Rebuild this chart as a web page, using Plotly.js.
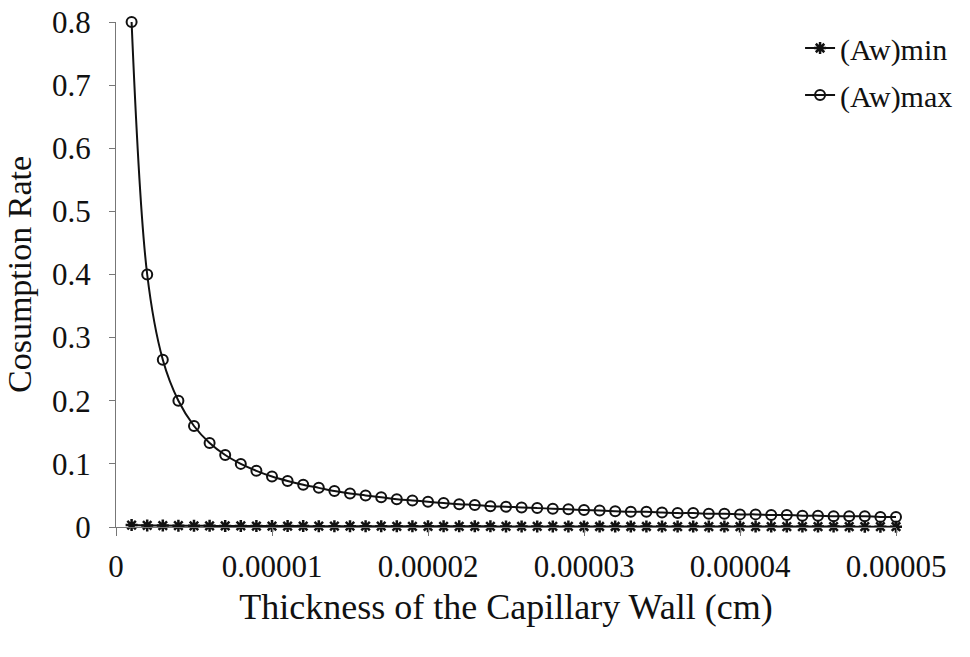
<!DOCTYPE html>
<html>
<head>
<meta charset="utf-8">
<script src="https://cdn.plot.ly/plotly-3.0.1.min.js"></script>
<style>
html,body{margin:0;padding:0;background:#fff;}
#chart{width:970px;height:657px;}
</style>
</head>
<body>
<div id="chart"></div>
<script>
// Thickness of the capillary wall (cm)
const thickness = [
  0.000001, 0.000002, 0.000003, 0.000004, 0.000005, 0.000006, 0.000007, 0.000008, 0.000009, 0.000010,
  0.000011, 0.000012, 0.000013, 0.000014, 0.000015, 0.000016, 0.000017, 0.000018, 0.000019, 0.000020,
  0.000021, 0.000022, 0.000023, 0.000024, 0.000025, 0.000026, 0.000027, 0.000028, 0.000029, 0.000030,
  0.000031, 0.000032, 0.000033, 0.000034, 0.000035, 0.000036, 0.000037, 0.000038, 0.000039, 0.000040,
  0.000041, 0.000042, 0.000043, 0.000044, 0.000045, 0.000046, 0.000047, 0.000048, 0.000049, 0.000050
];
// (Aw)min consumption rate
const awMin = [
  0.003, 0.0025, 0.0022, 0.002, 0.0019, 0.0018, 0.0017, 0.0016, 0.0015, 0.0015,
  0.0014, 0.0014, 0.0013, 0.0013, 0.0012, 0.0012, 0.0012, 0.0011, 0.0011, 0.0011,
  0.001, 0.001, 0.001, 0.001, 0.0009, 0.0009, 0.0009, 0.0009, 0.0009, 0.0008,
  0.0008, 0.0008, 0.0008, 0.0008, 0.0007, 0.0007, 0.0007, 0.0007, 0.0007, 0.0007,
  0.0006, 0.0006, 0.0006, 0.0006, 0.0006, 0.0006, 0.0006, 0.0005, 0.0005, 0.0005
];
// (Aw)max consumption rate
const awMax = [
  0.8, 0.4, 0.265, 0.2, 0.16, 0.133, 0.114, 0.1, 0.089, 0.08,
  0.073, 0.067, 0.062, 0.057, 0.053, 0.05, 0.047, 0.044, 0.042, 0.04,
  0.038, 0.036, 0.035, 0.033, 0.032, 0.031, 0.03, 0.029, 0.028, 0.027,
  0.026, 0.025, 0.024, 0.024, 0.023, 0.022, 0.022, 0.021, 0.021, 0.02,
  0.02, 0.019, 0.019, 0.018, 0.018, 0.017, 0.017, 0.017, 0.016, 0.016
];
const seriesNames = ["(Aw)min", "(Aw)max"];
const xTickVals = [0, 0.00001, 0.00002, 0.00003, 0.00004, 0.00005];
const xTickText = ["0", "0.00001", "0.00002", "0.00003", "0.00004", "0.00005"];
const yTickVals = [0, 0.1, 0.2, 0.3, 0.4, 0.5, 0.6, 0.7, 0.8];
const yTickText = ["0", "0.1", "0.2", "0.3", "0.4", "0.5", "0.6", "0.7", "0.8"];

const serif = "'Liberation Serif', 'Times New Roman', 'DejaVu Serif', serif";

const traces = [
  {
    x: thickness, y: awMin, name: seriesNames[0], type: "scatter", mode: "lines+markers",
    legendgroup: "a", cliponaxis: false,
    line: {color: "#111", width: 2, shape: "spline"},
    marker: {symbol: "asterisk-open", size: 10, color: "#111", line: {color: "#111", width: 2.5}}
  },
  {
    x: thickness, y: awMax, name: seriesNames[1], type: "scatter", mode: "lines+markers",
    legendgroup: "b", cliponaxis: false,
    line: {color: "#111", width: 2, shape: "spline"},
    marker: {symbol: "circle-open", size: 10, color: "#111", line: {color: "#111", width: 2}}
  }
];

const layout = {
  width: 970, height: 657,
  paper_bgcolor: "#fff", plot_bgcolor: "#fff",
  margin: {l: 116, r: 71, t: 22, b: 130},
  font: {family: serif, color: "#111"},
  showlegend: true,
  legend: {
    x: 0.877, y: 1.0, xanchor: "left", yanchor: "top",
    bgcolor: "rgba(0,0,0,0)", borderwidth: 0,
    font: {family: serif, size: 30, color: "#111"},
    traceorder: "grouped", tracegroupgap: 5
  },
  xaxis: {
    range: [0, 0.00005],
    tickvals: xTickVals, ticktext: xTickText,
    ticks: "outside", ticklen: 8, tickcolor: "#777", tickwidth: 1,
    showline: true, linecolor: "#777", linewidth: 1,
    showgrid: false, zeroline: false,
    ticklabelstandoff: 4,
    tickfont: {family: serif, size: 31, color: "#111"},
    title: {text: "Thickness of the Capillary Wall (cm)", font: {family: serif, size: 36, color: "#111"}, standoff: 10}
  },
  yaxis: {
    range: [0, 0.8],
    tickvals: yTickVals, ticktext: yTickText,
    ticks: "outside", ticklen: 6, tickcolor: "#777", tickwidth: 1,
    showline: true, linecolor: "#777", linewidth: 1,
    showgrid: false, zeroline: false,
    ticklabelstandoff: 12,
    tickfont: {family: serif, size: 31, color: "#111"},
    title: {text: "Cosumption Rate", font: {family: serif, size: 34, color: "#111"}, standoff: 10}
  }
};

Plotly.newPlot("chart", traces, layout, {displayModeBar: false, staticPlot: true});
</script>
</body>
</html>
